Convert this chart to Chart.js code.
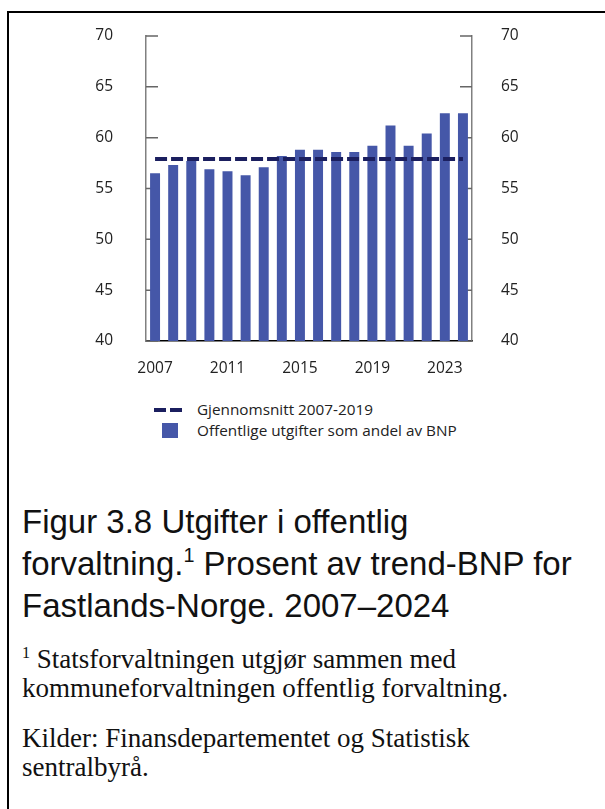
<!DOCTYPE html>
<html>
<head>
<meta charset="utf-8">
<script src="https://cdn.jsdelivr.net/npm/chart.js@4.4.1/dist/chart.umd.min.js"></script>
<style>
  html, body { margin: 0; padding: 0; background: #fff; }
  body { width: 605px; height: 809px; position: relative; overflow: hidden; }
  .frame { position: absolute; left: 7px; top: 11px; right: -10px; bottom: -10px;
           border-top: 2px solid #000; border-left: 2px solid #000; }
  #c { position: absolute; left: 0; top: 0; }
  .legend { position: absolute; left: 0; top: 0; font-family: 'Open Sans', sans-serif; font-size: 15.3px; color: #222; }
  .legend .txt { position: absolute; white-space: nowrap; line-height: 18px; }
  .dash { position: absolute; width: 12px; height: 4px; background: #1b1f5f; }
  .sq { position: absolute; width: 16px; height: 15px; background: #4557a8; }
  .caption { position: absolute; left: 22px; top: 501px; font-family: 'Liberation Sans', Arial, sans-serif;
             font-size: 33px; line-height: 42px; color: #111; white-space: nowrap; }
  .caption sup { font-size: 0.6em; line-height: 0; vertical-align: 0.65em; }
  .note { position: absolute; left: 22px; font-family: 'Liberation Serif', 'Times New Roman', serif;
          font-size: 27px; line-height: 29px; color: #111; white-space: nowrap; }
  .note sup { font-size: 0.6em; line-height: 0; vertical-align: 0.6em; }
</style>
</head>
<body>
<div class="frame"></div>
<canvas id="c" width="605" height="381"></canvas>

<div class="legend">
  <div class="dash" style="left:154px;top:408px"></div>
  <div class="dash" style="left:170px;top:408px"></div>
  <div class="txt" style="left:197px;top:400px">Gjennomsnitt 2007-2019</div>
  <div class="sq" style="left:162px;top:423px"></div>
  <div class="txt" style="left:197px;top:421px">Offentlige utgifter som andel av BNP</div>
</div>

<div class="caption">Figur 3.8 Utgifter i offentlig<br>forvaltning.<sup>1</sup> Prosent av trend-BNP for<br>Fastlands-Norge. 2007–2024</div>
<div class="note" style="top:645px"><sup>1</sup> Statsforvaltningen utgjør sammen med<br>kommuneforvaltningen offentlig forvaltning.</div>
<div class="note" style="top:724px">Kilder: Finansdepartementet og Statistisk<br>sentralbyrå.</div>

<script>
const years = ['2007', '2008', '2009', '2010', '2011', '2012', '2013', '2014', '2015',
               '2016', '2017', '2018', '2019', '2020', '2021', '2022', '2023', '2024'];
// Offentlige utgifter, prosent av trend-BNP
const spending = [56.5, 57.3, 57.7, 56.9, 56.7, 56.3, 57.1, 58.2, 58.8,
                  58.8, 58.6, 58.6, 59.2, 61.2, 59.2, 60.4, 62.4, 62.4];
// Gjennomsnitt 2007-2019
const average = [57.9, 57.9, 57.9, 57.9, 57.9, 57.9, 57.9, 57.9, 57.9,
                 57.9, 57.9, 57.9, 57.9, 57.9, 57.9, 57.9, 57.9, 57.9];
const yMin = 40, yMax = 70, yStep = 5;

const tickFont = { family: "'Open Sans', sans-serif", size: 15.5 };

// short inward tick marks on both value axes, drawn under the bars
const innerTicks = {
  id: 'innerTicks',
  beforeDatasetsDraw(chart) {
    const { ctx, chartArea: a } = chart;
    const y = chart.scales.y;
    ctx.save();
    ctx.strokeStyle = '#666';
    ctx.lineWidth = 1.5;
    y.ticks.forEach(t => {
      const py = y.getPixelForValue(t.value);
      ctx.beginPath();
      ctx.moveTo(a.left, py); ctx.lineTo(a.left + 12, py);
      ctx.moveTo(a.right - 12, py); ctx.lineTo(a.right, py);
      ctx.stroke();
    });
    ctx.restore();
  }
};

// invisible outer tick marks only push the labels away from the axis
const hiddenGrid = len => ({
  display: true, drawOnChartArea: false, drawTicks: true,
  tickLength: len, color: 'rgba(0,0,0,0)'
});

new Chart(document.getElementById('c'), {
  data: {
    labels: years,
    datasets: [
      {
        type: 'line',
        label: 'Gjennomsnitt 2007-2019',
        data: average,
        borderColor: '#1b1f5f',
        borderWidth: 4,
        borderDash: [12, 4],
        pointRadius: 0,
        fill: false,
        order: 0
      },
      {
        type: 'bar',
        label: 'Offentlige utgifter som andel av BNP',
        data: spending,
        backgroundColor: '#4557a8',
        categoryPercentage: 1,
        barPercentage: 0.55,
        order: 1
      }
    ]
  },
  options: {
    responsive: false,
    animation: false,
    layout: { padding: { top: 36, left: 0, right: 0, bottom: 0 } },
    plugins: { legend: { display: false }, tooltip: { enabled: false } },
    scales: {
      x: {
        grid: { display: false, drawTicks: false },
        border: { display: true, color: '#000', width: 1.5 },
        ticks: {
          color: '#222', font: tickFont, padding: 18, autoSkip: false, maxRotation: 0,
          callback: (v, i) => (i % 4 === 0 ? years[i] : '')
        },
        afterFit: s => { s.height = 40; }
      },
      y: {
        position: 'left', min: yMin, max: yMax,
        grid: hiddenGrid(33),
        border: { display: true, color: '#808080', width: 1.5 },
        ticks: { stepSize: yStep, color: '#222', font: tickFont, padding: 0 },
        afterFit: s => { s.width = 146; }
      },
      y2: {
        position: 'right', min: yMin, max: yMax,
        grid: hiddenGrid(29),
        border: { display: true, color: '#808080', width: 1.5 },
        ticks: { stepSize: yStep, color: '#222', font: tickFont, padding: 0 },
        afterFit: s => { s.width = 133; }
      }
    }
  },
  plugins: [innerTicks]
});
</script>
</body>
</html>
